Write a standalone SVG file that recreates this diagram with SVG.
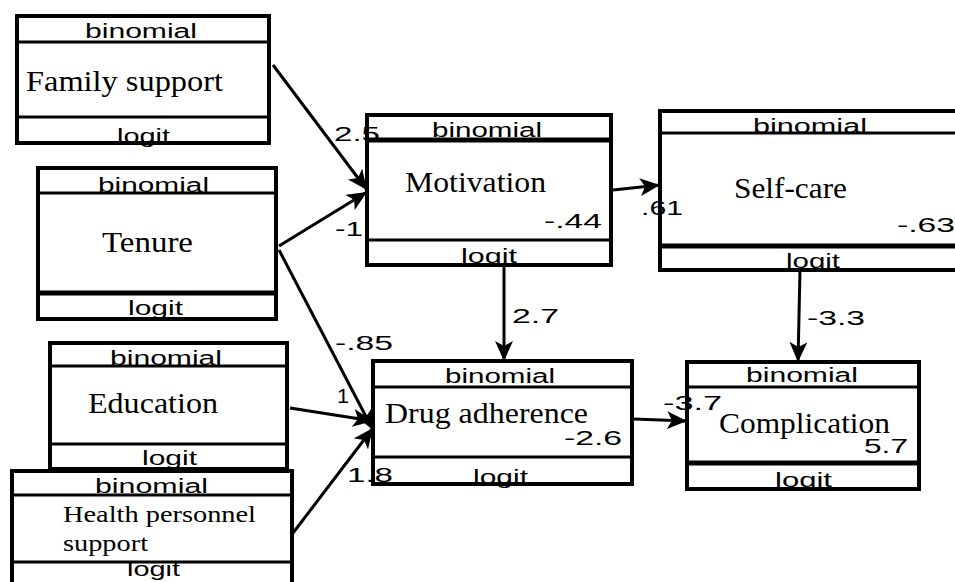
<svg xmlns="http://www.w3.org/2000/svg" width="955" height="582" viewBox="0 0 955 582">
<defs>
<style>
.bg{fill:#fff;stroke:none}
.box{fill:none;stroke:#000;stroke-width:4}
.div{stroke:#000;stroke-width:3}
.divt{stroke:#000;stroke-width:5}
.s{font-family:"Liberation Sans",Arial,sans-serif;font-size:20px;fill:#000}
.r{font-family:"Liberation Serif","Times New Roman",serif;font-size:29px;fill:#000}
.r2{font-family:"Liberation Serif","Times New Roman",serif;font-size:24px;fill:#000}
.c{stroke:#000;stroke-width:3;fill:none;marker-end:url(#ah)}
</style>
<marker id="ah" markerUnits="userSpaceOnUse" markerWidth="21" markerHeight="18" refX="20" refY="9" orient="auto">
<path d="M0,0 L20,9 L0,18 L5,9 z" fill="#000"/>
</marker>
</defs>
<rect width="955" height="582" fill="#fff"/>

<g id="family-support">
<rect class="bg" x="17" y="16" width="252" height="127"/>
<text class="s" x="85" y="38" textLength="112" lengthAdjust="spacingAndGlyphs">binomial</text>
<text class="r" x="26" y="91" textLength="197" lengthAdjust="spacingAndGlyphs">Family support</text>
<text class="s" x="117" y="143" textLength="53" lengthAdjust="spacingAndGlyphs">logit</text>
<rect class="box" x="17" y="16" width="252" height="127"/>
<line class="div" x1="17" y1="42" x2="269" y2="42"/>
<line class="div" x1="17" y1="117" x2="269" y2="117"/>
</g>

<g id="tenure">
<rect class="bg" x="38" y="168" width="238" height="151"/>
<text class="s" x="98" y="192" textLength="111" lengthAdjust="spacingAndGlyphs">binomial</text>
<text class="r" x="102" y="252" textLength="91" lengthAdjust="spacingAndGlyphs">Tenure</text>
<text class="s" x="128" y="315" textLength="55" lengthAdjust="spacingAndGlyphs">logit</text>
<rect class="box" x="38" y="168" width="238" height="151"/>
<line class="div" x1="38" y1="193" x2="276" y2="193"/>
<line class="divt" x1="38" y1="293" x2="276" y2="293"/>
</g>

<g id="education">
<rect class="bg" x="50" y="343" width="237" height="126"/>
<text class="s" x="110" y="365" textLength="112" lengthAdjust="spacingAndGlyphs">binomial</text>
<text class="r" x="88" y="413" textLength="130" lengthAdjust="spacingAndGlyphs">Education</text>
<text class="s" x="142" y="465" textLength="55" lengthAdjust="spacingAndGlyphs">logit</text>
<rect class="box" x="50" y="343" width="237" height="126"/>
<line class="div" x1="50" y1="366" x2="287" y2="366"/>
<line class="div" x1="50" y1="444" x2="287" y2="444"/>
</g>

<g id="health-personnel-support">
<rect class="bg" x="12" y="471" width="280" height="120"/>
<text class="s" x="95" y="493" textLength="113" lengthAdjust="spacingAndGlyphs">binomial</text>
<text class="r2" x="63" y="522" textLength="193" lengthAdjust="spacingAndGlyphs">Health personnel</text>
<text class="r2" x="63" y="551" textLength="85" lengthAdjust="spacingAndGlyphs">support</text>
<text class="s" x="127" y="576" textLength="53" lengthAdjust="spacingAndGlyphs">logit</text>
<rect class="box" x="12" y="471" width="280" height="120"/>
<line class="div" x1="12" y1="495" x2="292" y2="495"/>
<line class="div" x1="12" y1="562" x2="292" y2="562"/>
</g>

<g id="motivation">
<rect class="bg" x="367" y="115" width="244" height="150"/>
<text class="s" x="432" y="137" textLength="110" lengthAdjust="spacingAndGlyphs">binomial</text>
<text class="r" x="405" y="192" textLength="141" lengthAdjust="spacingAndGlyphs">Motivation</text>
<text class="s" x="544" y="228" textLength="58" lengthAdjust="spacingAndGlyphs">-.44</text>
<text class="s" x="461" y="263" textLength="56" lengthAdjust="spacingAndGlyphs">logit</text>
<rect class="box" x="367" y="115" width="244" height="150"/>
<line class="divt" x1="367" y1="140" x2="611" y2="140"/>
<line class="div" x1="367" y1="240" x2="611" y2="240"/>
</g>

<g id="self-care">
<rect class="bg" x="660" y="111" width="300" height="159"/>
<text class="s" x="753" y="133" textLength="114" lengthAdjust="spacingAndGlyphs">binomial</text>
<text class="r" x="734" y="198" textLength="113" lengthAdjust="spacingAndGlyphs">Self-care</text>
<text class="s" x="897" y="232" textLength="58" lengthAdjust="spacingAndGlyphs">-.63</text>
<text class="s" x="786" y="268" textLength="54" lengthAdjust="spacingAndGlyphs">logit</text>
<rect class="box" x="660" y="111" width="310" height="159"/>
<line class="div" x1="660" y1="133" x2="960" y2="133"/>
<line class="divt" x1="660" y1="246" x2="960" y2="246"/>
</g>

<g id="drug-adherence">
<rect class="bg" x="373" y="361" width="259" height="123"/>
<text class="s" x="445" y="383" textLength="110" lengthAdjust="spacingAndGlyphs">binomial</text>
<text class="r" x="385" y="423" textLength="203" lengthAdjust="spacingAndGlyphs">Drug adherence</text>
<text class="s" x="564" y="445" textLength="58" lengthAdjust="spacingAndGlyphs">-2.6</text>
<text class="s" x="473" y="484" textLength="55" lengthAdjust="spacingAndGlyphs">logit</text>
<rect class="box" x="373" y="361" width="259" height="123"/>
<line class="div" x1="373" y1="387" x2="632" y2="387"/>
<line class="div" x1="373" y1="457" x2="632" y2="457"/>
</g>

<g id="complication">
<rect class="bg" x="687" y="362" width="232" height="127"/>
<text class="s" x="746" y="382" textLength="112" lengthAdjust="spacingAndGlyphs">binomial</text>
<text class="r" x="719" y="433" textLength="171" lengthAdjust="spacingAndGlyphs">Complication</text>
<text class="s" x="864" y="453" textLength="44" lengthAdjust="spacingAndGlyphs">5.7</text>
<text class="s" x="775" y="487" textLength="57" lengthAdjust="spacingAndGlyphs">logit</text>
<rect class="box" x="687" y="362" width="232" height="127"/>
<line class="div" x1="687" y1="387" x2="919" y2="387"/>
<line class="divt" x1="687" y1="463" x2="919" y2="463"/>
</g>

<g id="connectors">
<line class="c" x1="273" y1="65" x2="367" y2="190"/>
<line class="c" x1="279" y1="246" x2="367" y2="192"/>
<line class="c" x1="279" y1="250" x2="373" y2="430"/>
<line class="c" x1="290" y1="408" x2="373" y2="421"/>
<line class="c" x1="293" y1="533" x2="373" y2="428"/>
<line class="c" x1="613" y1="190" x2="660" y2="185"/>
<line class="c" x1="504" y1="265" x2="504" y2="361"/>
<line class="c" x1="800" y1="270" x2="798" y2="362"/>
<line class="c" x1="634" y1="419" x2="687" y2="421"/>
<text class="s" x="334" y="141" textLength="46" lengthAdjust="spacingAndGlyphs">2.5</text>
<text class="s" x="335" y="236" textLength="28" lengthAdjust="spacingAndGlyphs">-1</text>
<text class="s" x="335" y="350" textLength="58" lengthAdjust="spacingAndGlyphs">-.85</text>
<text class="s" x="337" y="403" textLength="12" lengthAdjust="spacingAndGlyphs">1</text>
<text class="s" x="347" y="482" textLength="46" lengthAdjust="spacingAndGlyphs">1.8</text>
<text class="s" x="512" y="323" textLength="47" lengthAdjust="spacingAndGlyphs">2.7</text>
<text class="s" x="807" y="325" textLength="58" lengthAdjust="spacingAndGlyphs">-3.3</text>
<text class="s" x="641" y="215" textLength="42" lengthAdjust="spacingAndGlyphs">.61</text>
<text class="s" x="663" y="410" textLength="59" lengthAdjust="spacingAndGlyphs">-3.7</text>
</g>
</svg>
